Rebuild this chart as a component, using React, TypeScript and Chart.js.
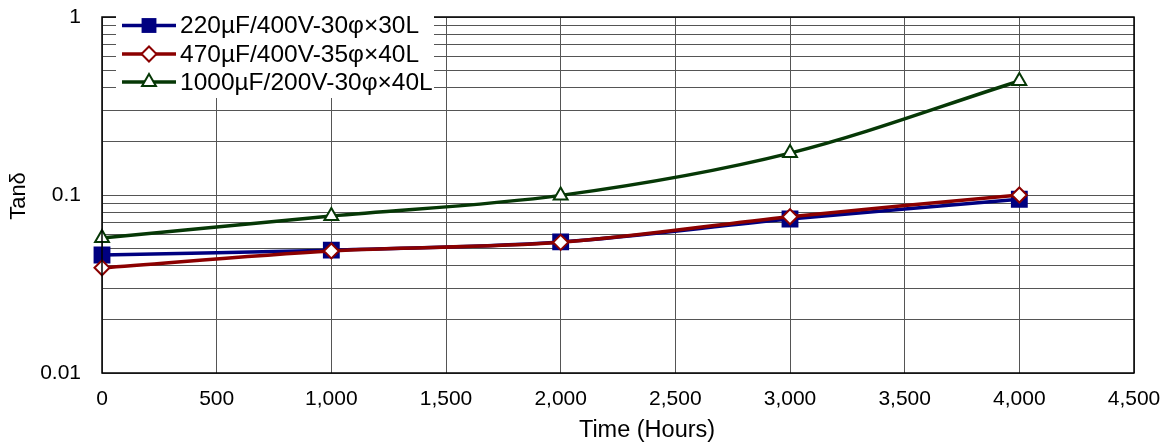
import React, { useEffect, useRef } from "react";
import { Chart, registerables } from "chart.js";

Chart.register(...registerables);

const hours = [0, 1000, 2000, 3000, 4000];
const seriesNames = ["220µF/400V-30φ×30L", "470µF/400V-35φ×40L", "1000µF/200V-30φ×40L"];
const cap220 = [0.046, 0.049, 0.0545, 0.0733, 0.0946];
const cap470 = [0.039, 0.0485, 0.0542, 0.0755, 0.1];
const cap1000 = [0.0573, 0.0762, 0.0995, 0.172, 0.437];
const yLabelValues = [0.01, 0.1, 1];
const xTickMax = 4500;
const xTickStep = 500;

const FONT = "'Liberation Sans', Arial, sans-serif";
const colors = ["#000080", "#8b0000", "#063806"];
const pointStyles = ["rect", "rectRot", "triangle"];
const pointRadii = [10.5, 7.5, 8];

function drawMarker(ctx: CanvasRenderingContext2D, style: string, x: number, y: number, r: number, color: string) {
  ctx.beginPath();
  if (style === "rect") {
    const s = Math.SQRT1_2 * r;
    ctx.rect(x - s, y - s, 2 * s, 2 * s);
    ctx.fillStyle = color;
    ctx.fill();
    return;
  }
  if (style === "rectRot") {
    ctx.moveTo(x - r, y);
    ctx.lineTo(x, y - r);
    ctx.lineTo(x + r, y);
    ctx.lineTo(x, y + r);
    ctx.closePath();
  } else {
    const ang = -Math.PI / 2;
    for (let k = 0; k < 3; k++) {
      const t = ang + (k * 2 * Math.PI) / 3;
      const px = x + Math.cos(t) * r;
      const py = y + Math.sin(t) * r;
      if (k === 0) ctx.moveTo(px, py);
      else ctx.lineTo(px, py);
    }
    ctx.closePath();
  }
  ctx.fillStyle = "#fff";
  ctx.fill();
  ctx.strokeStyle = color;
  ctx.lineWidth = 2;
  ctx.stroke();
}

const frameAndLegend = {
  id: "frameAndLegend",
  afterDraw(chart: any) {
    const ctx = chart.ctx;
    const a = chart.chartArea;
    ctx.save();
    ctx.strokeStyle = "#000";
    ctx.lineWidth = 1.5;
    ctx.strokeRect(a.left, a.top, a.right - a.left, a.bottom - a.top);

    // legend box
    ctx.fillStyle = "#fff";
    ctx.fillRect(116, 16, 318, 82);
    const rows = [25.5, 54, 82];
    rows.forEach((y, i) => {
      ctx.strokeStyle = colors[i];
      ctx.lineWidth = 3.5;
      ctx.beginPath();
      ctx.moveTo(122, y);
      ctx.lineTo(176, y);
      ctx.stroke();
      drawMarker(ctx, pointStyles[i], 149, y, pointRadii[i], colors[i]);
      ctx.fillStyle = "#000";
      ctx.font = `24.5px ${FONT}`;
      ctx.textBaseline = "middle";
      ctx.textAlign = "left";
      ctx.fillText(seriesNames[i], 180, y + 1);
    });

    // axis titles
    ctx.fillStyle = "#000";
    ctx.font = `23.5px ${FONT}`;
    ctx.textAlign = "center";
    ctx.textBaseline = "middle";
    ctx.fillText("Time (Hours)", 647, 431);
    ctx.save();
    ctx.translate(19, 196);
    ctx.rotate(-Math.PI / 2);
    ctx.font = `22px ${FONT}`;
    ctx.fillText("Tanδ", 0, 0);
    ctx.restore();
    ctx.restore();
  },
};

export default function App() {
  const ref = useRef<HTMLCanvasElement>(null);
  useEffect(() => {
    document.body.style.margin = "0";
    const seriesData = [cap220, cap470, cap1000];
    const chart = new Chart(ref.current!, {
      type: "line",
      data: {
        datasets: seriesData.map((vals, i) => ({
          label: seriesNames[i],
          data: hours.map((h, j) => ({ x: h, y: vals[j] })),
          borderColor: colors[i],
          backgroundColor: i === 0 ? colors[i] : "#fff",
          borderWidth: 3.5,
          pointStyle: pointStyles[i] as any,
          pointRadius: pointRadii[i],
          pointBorderWidth: 2,
          pointBackgroundColor: i === 0 ? colors[i] : "#fff",
          pointBorderColor: colors[i],
          tension: 0.33,
          clip: false as any,
          order: 2 - i,
        })),
      },
      options: {
        animation: false,
        responsive: false,
        devicePixelRatio: 1,
        layout: { padding: { top: 17, right: 30, left: 0, bottom: 0 } },
        plugins: { legend: { display: false }, tooltip: { enabled: false } },
        scales: {
          x: {
            type: "linear",
            min: 0,
            max: xTickMax,
            afterFit: (s: any) => {
              s.height = 74;
              s.paddingLeft = 0;
              s.paddingRight = 0;
            },
            ticks: {
              stepSize: xTickStep,
              padding: 14,
              color: "#000",
              font: { family: FONT, size: 21 },
              maxRotation: 0,
              callback: (v: any) => Number(v).toLocaleString("en-US"),
            },
            grid: { color: "#555", lineWidth: 1, drawTicks: false },
            border: { display: false },
          },
          y: {
            type: "logarithmic",
            min: 0.01,
            max: 1,
            afterFit: (s: any) => {
              s.width = 102;
              s.paddingTop = 0;
              s.paddingBottom = 0;
            },
            afterBuildTicks: (s: any) => {
              const t: any[] = [];
              for (let d = -2; d <= 0; d++) {
                for (let m = 1; m <= 9; m++) {
                  const v = m * Math.pow(10, d);
                  if (v > 1.0000001) break;
                  t.push({ value: v });
                }
              }
              s.ticks = t;
            },
            ticks: {
              autoSkip: false,
              padding: 21,
              color: "#000",
              font: { family: FONT, size: 21 },
              callback: (v: any) => {
                const hit = yLabelValues.find((l) => Math.abs(l - v) < 1e-9);
                return hit !== undefined ? String(hit) : "";
              },
            },
            grid: { color: "#555", lineWidth: 1, drawTicks: false },
            border: { display: false },
          },
        },
      },
      plugins: [frameAndLegend],
    });
    return () => chart.destroy();
  }, []);
  return <canvas ref={ref} width={1164} height={447} style={{ display: "block" }} />;
}
